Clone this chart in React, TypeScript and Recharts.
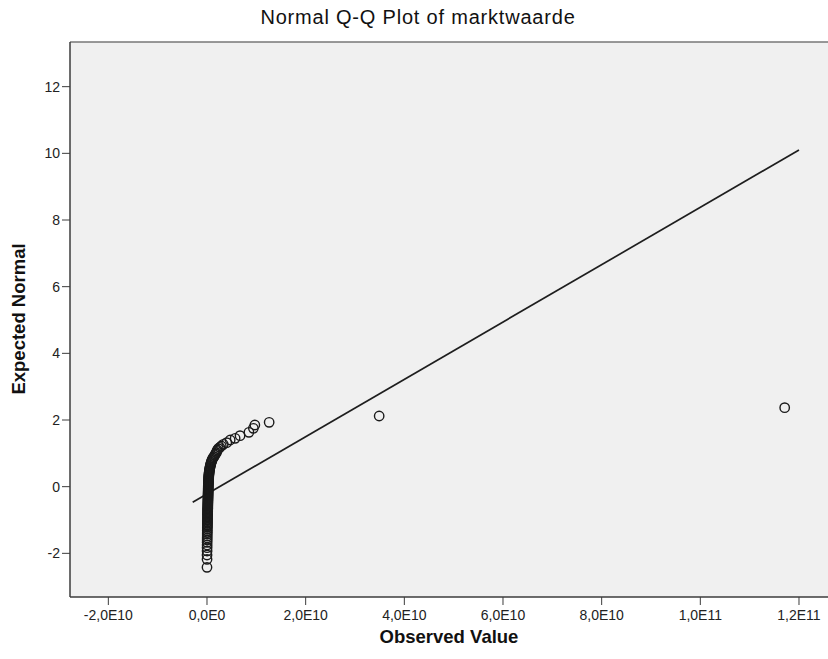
import { ScatterChart, Scatter, XAxis, YAxis, CartesianGrid, ReferenceLine } from 'recharts';

// observed values (marktwaarde) in units of 1E10, sorted ascending
const OBSERVED_E10 = [
  0.0, 0.001, 0.001, 0.002, 0.002, 0.003, 0.003, 0.004,
  0.004, 0.005, 0.005, 0.006, 0.006, 0.007, 0.007,
  0.008, 0.008, 0.009, 0.009, 0.01, 0.01, 0.011, 0.011, 0.012, 0.012, 0.013,
  0.013, 0.014, 0.014, 0.015, 0.015, 0.016, 0.016, 0.017, 0.017, 0.018,
  0.018, 0.019, 0.019, 0.02, 0.02, 0.021, 0.021, 0.022, 0.022, 0.023,
  0.023, 0.024, 0.024, 0.025, 0.025, 0.026, 0.026, 0.027, 0.028, 0.029,
  0.03, 0.031, 0.032, 0.033, 0.034, 0.035, 0.036, 0.038, 0.04, 0.042,
  0.044, 0.047, 0.05, 0.053, 0.057, 0.061, 0.065, 0.07, 0.075, 0.08,
  0.086, 0.093, 0.1,
  0.11, 0.12, 0.14, 0.16, 0.17, 0.19, 0.2, 0.21, 0.23, 0.26,
  0.29, 0.33, 0.4, 0.47, 0.57, 0.67, 0.85, 0.94, 0.97, 1.26,
  3.49, 11.71,
];

// expected normal scores
const EXPECTED = [
  -2.42, -2.18, -2.05, -1.93, -1.83, -1.75, -1.67, -1.6,
  -1.54, -1.48, -1.42, -1.37, -1.32, -1.27, -1.22,
  -1.18, -1.14, -1.1, -1.06, -1.02, -0.98, -0.94, -0.9, -0.86, -0.83, -0.8,
  -0.77, -0.74, -0.71, -0.68, -0.65, -0.62, -0.59, -0.56, -0.53, -0.5,
  -0.47, -0.44, -0.41, -0.38, -0.35, -0.32, -0.29, -0.26, -0.23, -0.2,
  -0.17, -0.14, -0.11, -0.08, -0.05, -0.02, 0.01, 0.04, 0.07, 0.1,
  0.13, 0.16, 0.19, 0.22, 0.25, 0.28, 0.31, 0.34, 0.37, 0.4,
  0.43, 0.46, 0.49, 0.52, 0.55, 0.58, 0.61, 0.64, 0.67, 0.7,
  0.73, 0.76, 0.79,
  0.82, 0.86, 0.9, 0.94, 0.98, 1.02, 1.06, 1.1, 1.14, 1.18,
  1.22, 1.27, 1.32, 1.4, 1.45, 1.53, 1.63, 1.75, 1.85, 1.93,
  2.12, 2.37,
];

// reference line end points
const LINE_X = [-0.29e10, 1.2e11];
const LINE_Y = [-0.47, 10.1];

const X_TICKS = [-2e10, 0, 2e10, 4e10, 6e10, 8e10, 1e11, 1.2e11];
const X_TICK_LABELS = ['-2,0E10', '0,0E0', '2,0E10', '4,0E10', '6,0E10', '8,0E10', '1,0E11', '1,2E11'];
const Y_TICKS = [-2, 0, 2, 4, 6, 8, 10, 12];

const X_DOMAIN = [-2.777e10, 1.2588e11];
const Y_DOMAIN = [-3.31, 13.34];

const FONT = '"Liberation Sans", Arial, sans-serif';

const points = OBSERVED_E10.map((x, i) => ({ x: x * 1e10, y: EXPECTED[i] }));

const Ring = (props: any) => {
  const { cx, cy } = props;
  if (cx == null || cy == null) return <g />;
  return <circle cx={cx} cy={cy} r={4.7} fill="none" stroke="#1a1a1a" strokeWidth={1.4} />;
};

export default function App() {
  const tickStyle = { fontFamily: FONT, fontSize: 14, fill: '#222' };

  return (
    <div
      style={{
        position: 'absolute',
        left: 0,
        top: 0,
        width: 828,
        height: 659,
        overflow: 'hidden',
        background: '#fff',
      }}
    >
      <div
        style={{
          position: 'absolute',
          left: 4,
          top: 6,
          width: 828,
          textAlign: 'center',
          fontFamily: FONT,
          fontSize: 20,
          letterSpacing: 0.8,
          lineHeight: '23px',
          color: '#111',
        }}
      >
        Normal Q-Q Plot of marktwaarde
      </div>

      <ScatterChart
        width={828}
        height={659}
        margin={{ top: 42, right: 0, bottom: 0, left: 20 }}
      >
        <CartesianGrid fill="#f0f0f0" horizontal={false} vertical={false} stroke="none" />
        <XAxis
          type="number"
          dataKey="x"
          domain={X_DOMAIN}
          allowDataOverflow
          ticks={X_TICKS}
          tickFormatter={(v: number) => X_TICK_LABELS[X_TICKS.indexOf(v)] ?? ''}
          height={62}
          tickSize={8}
          tickMargin={5}
          tick={tickStyle}
          axisLine={{ stroke: '#3c3c3c', strokeWidth: 1.5 }}
          tickLine={{ stroke: '#3c3c3c' }}
        />
        <YAxis
          type="number"
          dataKey="y"
          domain={Y_DOMAIN}
          allowDataOverflow
          ticks={Y_TICKS}
          width={50}
          tickSize={8}
          tickMargin={2}
          tick={tickStyle}
          axisLine={{ stroke: '#3c3c3c', strokeWidth: 1.5 }}
          tickLine={{ stroke: '#3c3c3c' }}
        />
        <ReferenceLine y={Y_DOMAIN[1]} stroke="#777" strokeWidth={1.5} />
        <ReferenceLine
          segment={[
            { x: LINE_X[0], y: LINE_Y[0] },
            { x: LINE_X[1], y: LINE_Y[1] },
          ]}
          stroke="#1e1e1e"
          strokeWidth={1.7}
          ifOverflow="visible"
        />
        <Scatter data={points} shape={Ring} isAnimationActive={false} />
      </ScatterChart>

      <div
        style={{
          position: 'absolute',
          left: 70,
          top: 626,
          width: 758,
          textAlign: 'center',
          fontFamily: FONT,
          fontSize: 18.5,
          fontWeight: 'bold',
          lineHeight: '22px',
          color: '#111',
        }}
      >
        Observed Value
      </div>
      <div
        style={{
          position: 'absolute',
          left: 19 - 150,
          top: 319 - 11,
          width: 300,
          textAlign: 'center',
          fontFamily: FONT,
          fontSize: 18.5,
          fontWeight: 'bold',
          lineHeight: '22px',
          color: '#111',
          transform: 'rotate(-90deg)',
        }}
      >
        Expected Normal
      </div>
    </div>
  );
}
